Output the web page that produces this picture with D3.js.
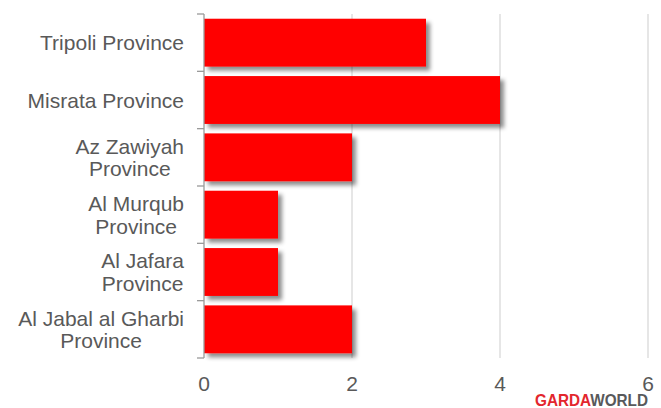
<!DOCTYPE html>
<html>
<head>
<meta charset="utf-8">
<script src="https://cdn.jsdelivr.net/npm/d3@7"></script>
<style>
  html, body { margin: 0; padding: 0; background: #fff; }
  svg { display: block; }
</style>
</head>
<body>
<svg id="chart" width="661" height="408"></svg>
<script>
const categories = [
  ["Tripoli Province"],
  ["Misrata Province"],
  ["Az Zawiyah", "Province"],
  ["Al Murqub", "Province"],
  ["Al Jafara", "Province"],
  ["Al Jabal al Gharbi", "Province"]
];
const values = [3, 4, 2, 1, 1, 2];
const xTicks = [0, 2, 4, 6];

(function () {
const svg = d3.select("#chart");
const mLeft = 204, mRight = 648, mTop = 14, mBottom = 358;

const x = d3.scaleLinear().domain([0, 6]).range([mLeft, mRight]);
const keys = categories.map(c => c.join(" "));
const y = d3.scaleBand().domain(keys).range([mTop, mBottom]).paddingInner(0.165).paddingOuter(0.0825);

const defs = svg.append("defs");
const f = defs.append("filter").attr("id", "shadow").attr("x", "-10%").attr("y", "-20%").attr("width", "130%").attr("height", "150%");
f.append("feDropShadow").attr("dx", 4).attr("dy", 4).attr("stdDeviation", 2.2)
  .attr("flood-color", "#000").attr("flood-opacity", 0.45);

// gridlines
svg.append("g").selectAll("line").data(xTicks.filter(d => d > 0)).join("line")
  .attr("x1", d => x(d)).attr("x2", d => x(d))
  .attr("y1", mTop).attr("y2", mBottom)
  .attr("stroke", "#d9d9d9").attr("stroke-width", 1.3);

// bars
svg.append("g").selectAll("rect").data(values).join("rect")
  .attr("x", x(0)).attr("y", (d, i) => y(keys[i]))
  .attr("width", d => x(d) - x(0)).attr("height", y.bandwidth())
  .attr("fill", "#ff0000").attr("filter", "url(#shadow)");

// y axis line + ticks at band boundaries
const step = y.step();
const axisG = svg.append("g");
axisG.append("line").attr("x1", mLeft).attr("x2", mLeft).attr("y1", mTop).attr("y2", mBottom)
  .attr("stroke", "#9a9a9a").attr("stroke-width", 1.3);
axisG.selectAll("line.tk").data(d3.range(keys.length + 1)).join("line").attr("class", "tk")
  .attr("x1", mLeft - 7).attr("x2", mLeft)
  .attr("y1", i => mTop + i * step).attr("y2", i => mTop + i * step)
  .attr("stroke", "#9a9a9a").attr("stroke-width", 1.3);

// category labels
const fs = 21, lh = 22.7;
categories.forEach((lines, i) => {
  const cy = y(keys[i]) + y.bandwidth() / 2;
  const g = svg.append("g");
  const t = g.append("text").attr("font-family", "Liberation Sans, Arial, sans-serif")
    .attr("font-size", fs).attr("fill", "#595959").attr("text-anchor", "middle");
  const firstBase = cy - (lines.length - 1) * lh / 2 + fs * 0.36;
  lines.forEach((ln, j) => {
    t.append("tspan").attr("x", 0).attr("y", firstBase + j * lh).text(ln);
  });
  let maxW = 0;
  t.selectAll("tspan").each(function () { maxW = Math.max(maxW, this.getComputedTextLength()); });
  t.selectAll("tspan").attr("x", 184 - maxW / 2);
});

// x tick labels
svg.append("g").selectAll("text").data(xTicks).join("text")
  .attr("x", d => x(d)).attr("y", 391)
  .attr("text-anchor", "middle")
  .attr("font-family", "Liberation Sans, Arial, sans-serif")
  .attr("font-size", fs).attr("fill", "#595959")
  .text(d => d);

// logo
const logo = svg.append("text").attr("x", 535).attr("y", 406)
  .attr("font-family", "Liberation Sans, Arial, sans-serif").attr("font-weight", "bold")
  .attr("font-size", 16.5).attr("textLength", 113).attr("lengthAdjust", "spacingAndGlyphs");
logo.append("tspan").attr("fill", "#e3262d").text("GARDA");
logo.append("tspan").attr("fill", "#58595b").text("WORLD");
})();
</script>
</body>
</html>
